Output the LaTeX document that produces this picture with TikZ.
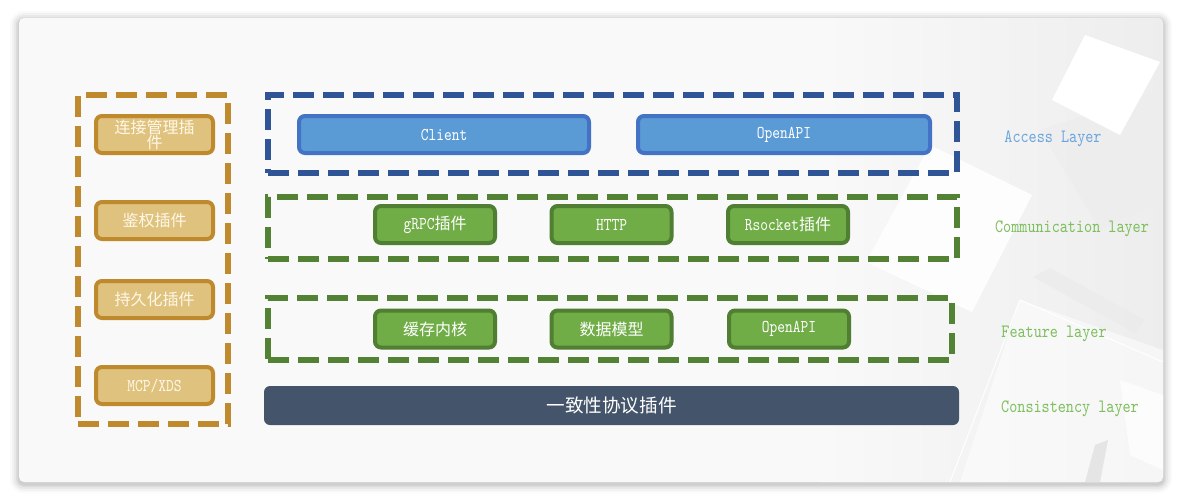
\documentclass[tikz,border=0pt]{standalone}
\usepackage{fontspec}
\newfontfamily\latin{lmmono10-regular.otf}[FakeStretch=0.82]
\newfontfamily\cjk{Noto Sans CJK SC}
\definecolor{orangeline}{RGB}{190,138,45}
\definecolor{orangefill}{RGB}{223,194,126}
\definecolor{cream}{RGB}{255,248,232}
\definecolor{accessdash}{RGB}{47,85,151}
\definecolor{bluefill}{RGB}{91,155,213}
\definecolor{blueline}{RGB}{68,114,196}
\definecolor{greendash}{RGB}{84,130,53}
\definecolor{greenfill}{RGB}{112,173,71}
\definecolor{greenline}{RGB}{80,126,50}
\definecolor{slatebar}{RGB}{68,84,106}
\definecolor{labelblue}{RGB}{108,166,222}
\definecolor{labelgreen}{RGB}{124,191,92}
\definecolor{cardbg}{RGB}{249,249,249}
\newcommand{\zh}[1]{{\cjk\fontsize{16}{18}\selectfont #1}}
\tikzset{
  groupbox/.style={draw=#1, line width=6, dash pattern=on 21 off 9, line join=miter,
    inner sep=0, fill=none},
  pluginbox/.style={draw=orangeline, fill=orangefill, line width=4, rounded corners=6,
    minimum width=117, minimum height=37, inner sep=0, text=cream,
    font=\latin\fontsize{18}{18}\selectfont, align=center},
  accessbox/.style={draw=blueline, fill=bluefill, line width=4, rounded corners=6,
    minimum height=37, inner sep=0, text=white, font=\latin\fontsize{18}{18}\selectfont},
  layerbox/.style={draw=greenline, fill=greenfill, line width=4, rounded corners=6,
    minimum width=120, minimum height=37, inner sep=0, text=white,
    font=\latin\fontsize{18}{18}\selectfont},
  layerlabel/.style={font=\latin\fontsize{18.8}{19}\selectfont, inner sep=0},
}
\begin{document}
\begin{tikzpicture}[x=1pt,y=-1pt]
\useasboundingbox (0,0) rectangle (1182,501);
\fill[white] (0,0) rectangle (1182,501);
% soft shadow under the card
\foreach \d/\o in {9/0.02,7/0.03,5/0.04,3/0.05,1.5/0.06}{
  \fill[black,opacity=\o,rounded corners=5+\d] (19-\d,18-\d+2) rectangle (1163+\d,482+\d+2);
}
% card
\fill[cardbg,rounded corners=5] (19,18) rectangle (1163,482);
\begin{scope}
  \clip[rounded corners=5] (19,18) rectangle (1163,482);
  % decorative background squares
  \shade[left color=cardbg, right color=gray!14] (820,18) rectangle (1163,482);
  \fill[gray!16,opacity=.7] (1033,277) -- (1050,268) -- (1145,320) -- (1135,333) -- cycle;
  \fill[gray!14,opacity=.7] (1040,130) -- (1163,90) -- (1163,200) -- (1100,230) -- cycle;
  \fill[white] (1085,35) -- (1160,62) -- (1120,135) -- (1052,100) -- cycle;
  \fill[white,opacity=.85] (930,145) -- (1032,195) -- (972,312) -- (866,262) -- cycle;
  \fill[white,opacity=.5] (1020,300) -- (1163,350) -- (1163,482) -- (960,482) -- cycle;
  \draw[white,line width=1] (1020,300) -- (1163,362);
  \draw[white,line width=1] (1020,300) -- (950,482);
  \fill[gray!20] (1095,445) -- (1108,440) -- (1100,482) -- (1085,482) -- cycle;
  \fill[white,opacity=.7] (1120,380) -- (1163,395) -- (1163,470) -- (1130,455) -- cycle;
\end{scope}

% group outlines
\node[groupbox=orangeline, minimum width=150, minimum height=329] (plugins) at (153,259.5) {};
\node[groupbox=accessdash, minimum width=689, minimum height=78] (access) at (612.5,134) {};
\node[groupbox=greendash, minimum width=689, minimum height=62] (comm) at (612.5,228) {};
\node[groupbox=greendash, minimum width=684, minimum height=62] (feature) at (610,329) {};

% plugin column
\node[pluginbox, font=\cjk\fontsize{16}{15}\selectfont] (connmgr) at (154.5,134.5) {连接管理插\\件};
\node[pluginbox] (auth) at (154.5,220.5) {\zh{鉴权插件}};
\node[pluginbox] (persist) at (154.5,299.5) {\zh{持久化插件}};
\node[pluginbox] (mcp) at (154.5,385.5) {MCP/XDS};

% access layer
\node[accessbox, minimum width=290] (client) at (444,134.5) {Client};
\node[accessbox, minimum width=292] (openapiA) at (784,134.5) {OpenAPI};

% communication layer
\node[layerbox] (grpc) at (435,224.5) {gRPC\zh{插件}};
\node[layerbox] (http) at (611.5,224.5) {HTTP};
\node[layerbox] (rsocket) at (788,224.5) {Rsocket\zh{插件}};

% feature layer
\node[layerbox] (cache) at (435,329) {\zh{缓存内核}};
\node[layerbox] (model) at (611.5,329) {\zh{数据模型}};
\node[layerbox] (openapiF) at (789,329) {OpenAPI};

% consistency layer
\node[fill=slatebar, rounded corners=6, minimum width=695, minimum height=39, inner sep=0,
  text=white, font=\cjk\fontsize{18.6}{20}\selectfont] (consensus) at (611.5,405.5) {一致性协议插件};

% layer names
\node[layerlabel, text=labelblue] (lblaccess) at (1053,139) {Access Layer};
\node[layerlabel, text=labelgreen] (lblcomm) at (1072,229) {Communication layer};
\node[layerlabel, text=labelgreen] (lblfeature) at (1054,334) {Feature layer};
\node[layerlabel, text=labelgreen] (lblcons) at (1070,409) {Consistency layer};
\end{tikzpicture}
\end{document}
